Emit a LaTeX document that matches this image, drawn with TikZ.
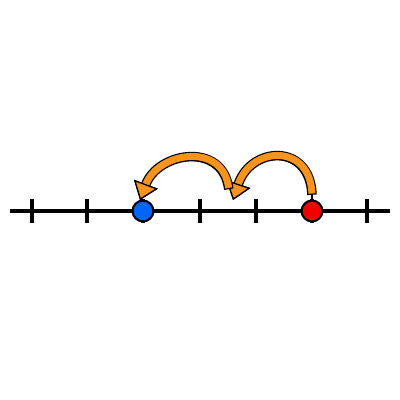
\documentclass[tikz,border=0pt]{standalone}
\usetikzlibrary{arrows.meta}
\definecolor{hoporange}{RGB}{247,148,30}
\definecolor{dotblue}{RGB}{0,102,255}
\definecolor{dotred}{RGB}{240,0,0}
\tikzset{
	numtick/.style={line width=2.5pt},
	dot/.style={circle,draw,line width=1.5pt,minimum size=0.52cm,inner sep=0pt},
	hoptip/.style={-{Triangle[length=12pt,width=18pt,line width=0.9pt,color=black,fill=hoporange]}},
	hopedge/.style={hoptip,line width=6.8pt,black},
	hopfill/.style={hoptip,line width=5pt,hoporange,shorten <=0.9pt}
}
\begin{document}
\begin{tikzpicture}
	\useasboundingbox (0,0) rectangle (10,10);
	\draw[line width=2.5pt] (0.25,4.725) -- (9.75,4.725);
	\draw[numtick] (0.8,4.425) -- (0.8,5.025);
	\draw[numtick] (2.175,4.425) -- (2.175,5.025);
	\draw[numtick] (3.575,4.425) -- (3.575,5.025);
	\draw[numtick] (5.0,4.425) -- (5.0,5.025);
	\draw[numtick] (6.4,4.425) -- (6.4,5.025);
	\draw[numtick] (7.8,4.425) -- (7.8,5.025);
	\draw[numtick] (9.175,4.425) -- (9.175,5.025);
	\node[dot,fill=dotblue] (blue) at (3.575,4.725) {};
	\node[dot,fill=dotred] (red) at (7.8,4.725) {};
	\coordinate (launch) at (7.8,5.13);
	\coordinate (land) at (5.825,5.0);
	\coordinate (lift) at (5.72,5.27);
	\coordinate (lead) at (3.5,5.0);
	% first hop, from the red dot
	\draw[line width=1.5pt] (red.north) -- (launch);
	\draw[hopedge] (launch) .. controls +(-0.05,1.3) and +(0.45,1.35) .. (land);
	\draw[hopfill] (launch) .. controls +(-0.05,1.3) and +(0.45,1.35) .. (land);
	% second hop, onto the blue dot
	\draw[hopedge] (lift) .. controls +(-0.15,1.2) and +(0.45,1.2) .. (lead);
	\draw[hopfill] (lift) .. controls +(-0.15,1.2) and +(0.45,1.2) .. (lead);
\end{tikzpicture}
\end{document}
